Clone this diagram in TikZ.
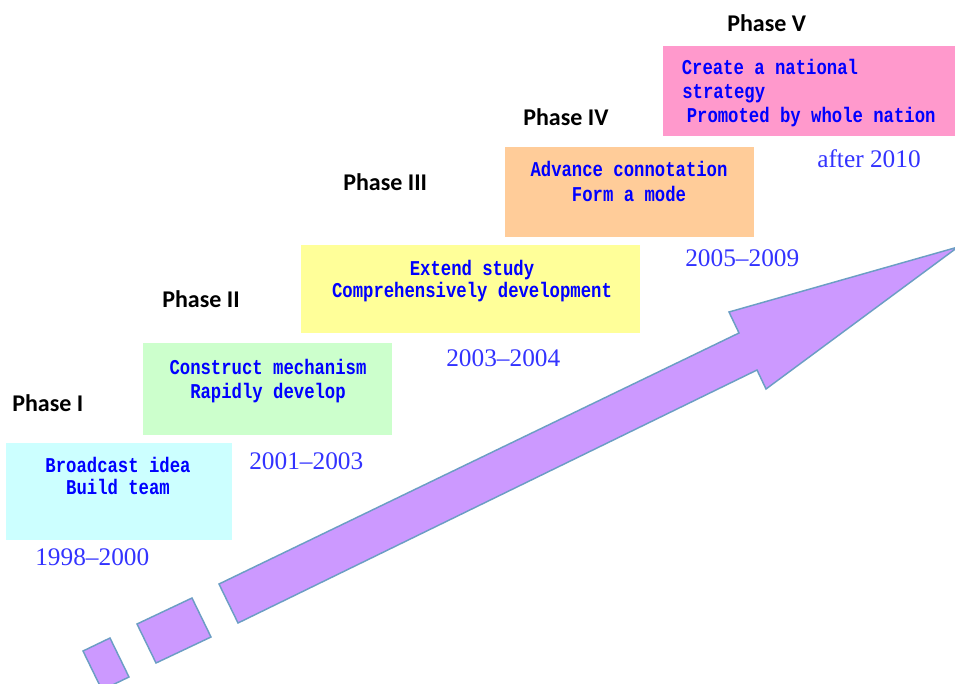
\documentclass[tikz,border=0pt]{standalone}
\usepackage{fontspec}
\newfontfamily\boxfont{Liberation Mono}[FakeStretch=0.82]
\newfontfamily\datefont{Liberation Serif}
\newfontfamily\phasefont{Carlito}
\definecolor{boxblue}{HTML}{0000FF}
\definecolor{dateblue}{HTML}{3333FF}
\definecolor{cyanbox}{HTML}{CCFFFF}
\definecolor{greenbox}{HTML}{CCFFCC}
\definecolor{yellowbox}{HTML}{FFFF99}
\definecolor{orangebox}{HTML}{FFCC99}
\definecolor{pinkbox}{HTML}{FF99CC}
\definecolor{arrowfill}{HTML}{CC99FF}
\definecolor{arrowedge}{HTML}{6C9EC4}
\tikzset{
  stagebox/.style={draw=none, inner sep=0pt, anchor=north west},
  boxline/.style={inner sep=0pt, anchor=base, text=boxblue, font=\boxfont\bfseries\fontsize{15.8pt}{18pt}\selectfont},
  boxlineL/.style={boxline, anchor=base west},
  datelabel/.style={inner sep=0pt, anchor=base west, text=dateblue, font=\datefont\fontsize{19pt}{22pt}\selectfont},
  phaselabel/.style={inner sep=0pt, anchor=base west, font=\phasefont\bfseries\fontsize{18pt}{21pt}\selectfont},
  arrowpart/.style={fill=arrowfill, draw=arrowedge, line width=1.1pt, line join=miter}
}
\begin{document}
\begin{tikzpicture}[x=0.75pt, y=-0.75pt]
\useasboundingbox (0,0) rectangle (955,684);
\clip (0,0) rectangle (955,684);

% stage boxes
\node[stagebox, fill=cyanbox,   minimum width=169.5pt,  minimum height=72.75pt] (b1) at (6,443) {};
\node[stagebox, fill=greenbox,  minimum width=186.75pt, minimum height=69pt]    (b2) at (143,343) {};
\node[stagebox, fill=yellowbox, minimum width=254.25pt, minimum height=66pt]    (b3) at (301,245) {};
\node[stagebox, fill=orangebox, minimum width=186.75pt, minimum height=67.5pt]  (b4) at (505,147) {};
\node[stagebox, fill=pinkbox,   minimum width=225pt,    minimum height=67.5pt]  (b5) at (663,46) {};

% box texts
\node[boxline] (t1a) at (118,472) {Broadcast idea};
\node[boxline] (t1b) at (118,494) {Build team};
\node[boxline] (t2a) at (268,374) {Construct mechanism};
\node[boxline] (t2b) at (268,398) {Rapidly develop};
\node[boxline] (t3a) at (472,275) {Extend study};
\node[boxline] (t3b) at (472,297) {Comprehensively development};
\node[boxline] (t4a) at (629,177) {Advance connotation};
\node[boxline] (t4b) at (629,201) {Form a mode};
\node[boxlineL] (t5a) at (681.5,75) {Create a national};
\node[boxlineL] (t5b) at (682,99) {strategy};
\node[boxlineL] (t5c) at (686.5,122.5) {Promoted by whole nation};

% phase titles
\node[phaselabel] (p1) at (12,411.5) {Phase I};
\node[phaselabel] (p2) at (162,307) {Phase II};
\node[phaselabel] (p3) at (343,190.5) {Phase III};
\node[phaselabel] (p4) at (523,126) {Phase IV};
\node[phaselabel] (p5) at (727,31.5) {Phase V};

% periods
\node[datelabel] (d1) at (35,565) {1998–2000};
\node[datelabel] (d2) at (249,469) {2001–2003};
\node[datelabel] (d3) at (446,366) {2003–2004};
\node[datelabel] (d4) at (685,266) {2005–2009};
\node[datelabel] (d5) at (817,168) {after 2010};

% rising arrow with two leading blocks
\draw[arrowpart] (83,651) -- (110,638) -- (129,677) -- (102,690) -- cycle;
\draw[arrowpart] (137,624) -- (192,598) -- (211,637) -- (156,663) -- cycle;
\draw[arrowpart] (238,623) -- (219,584) -- (739,333) -- (729,312) -- (958,247)
  -- (766,389) -- (757,370) -- cycle;
\end{tikzpicture}
\end{document}
